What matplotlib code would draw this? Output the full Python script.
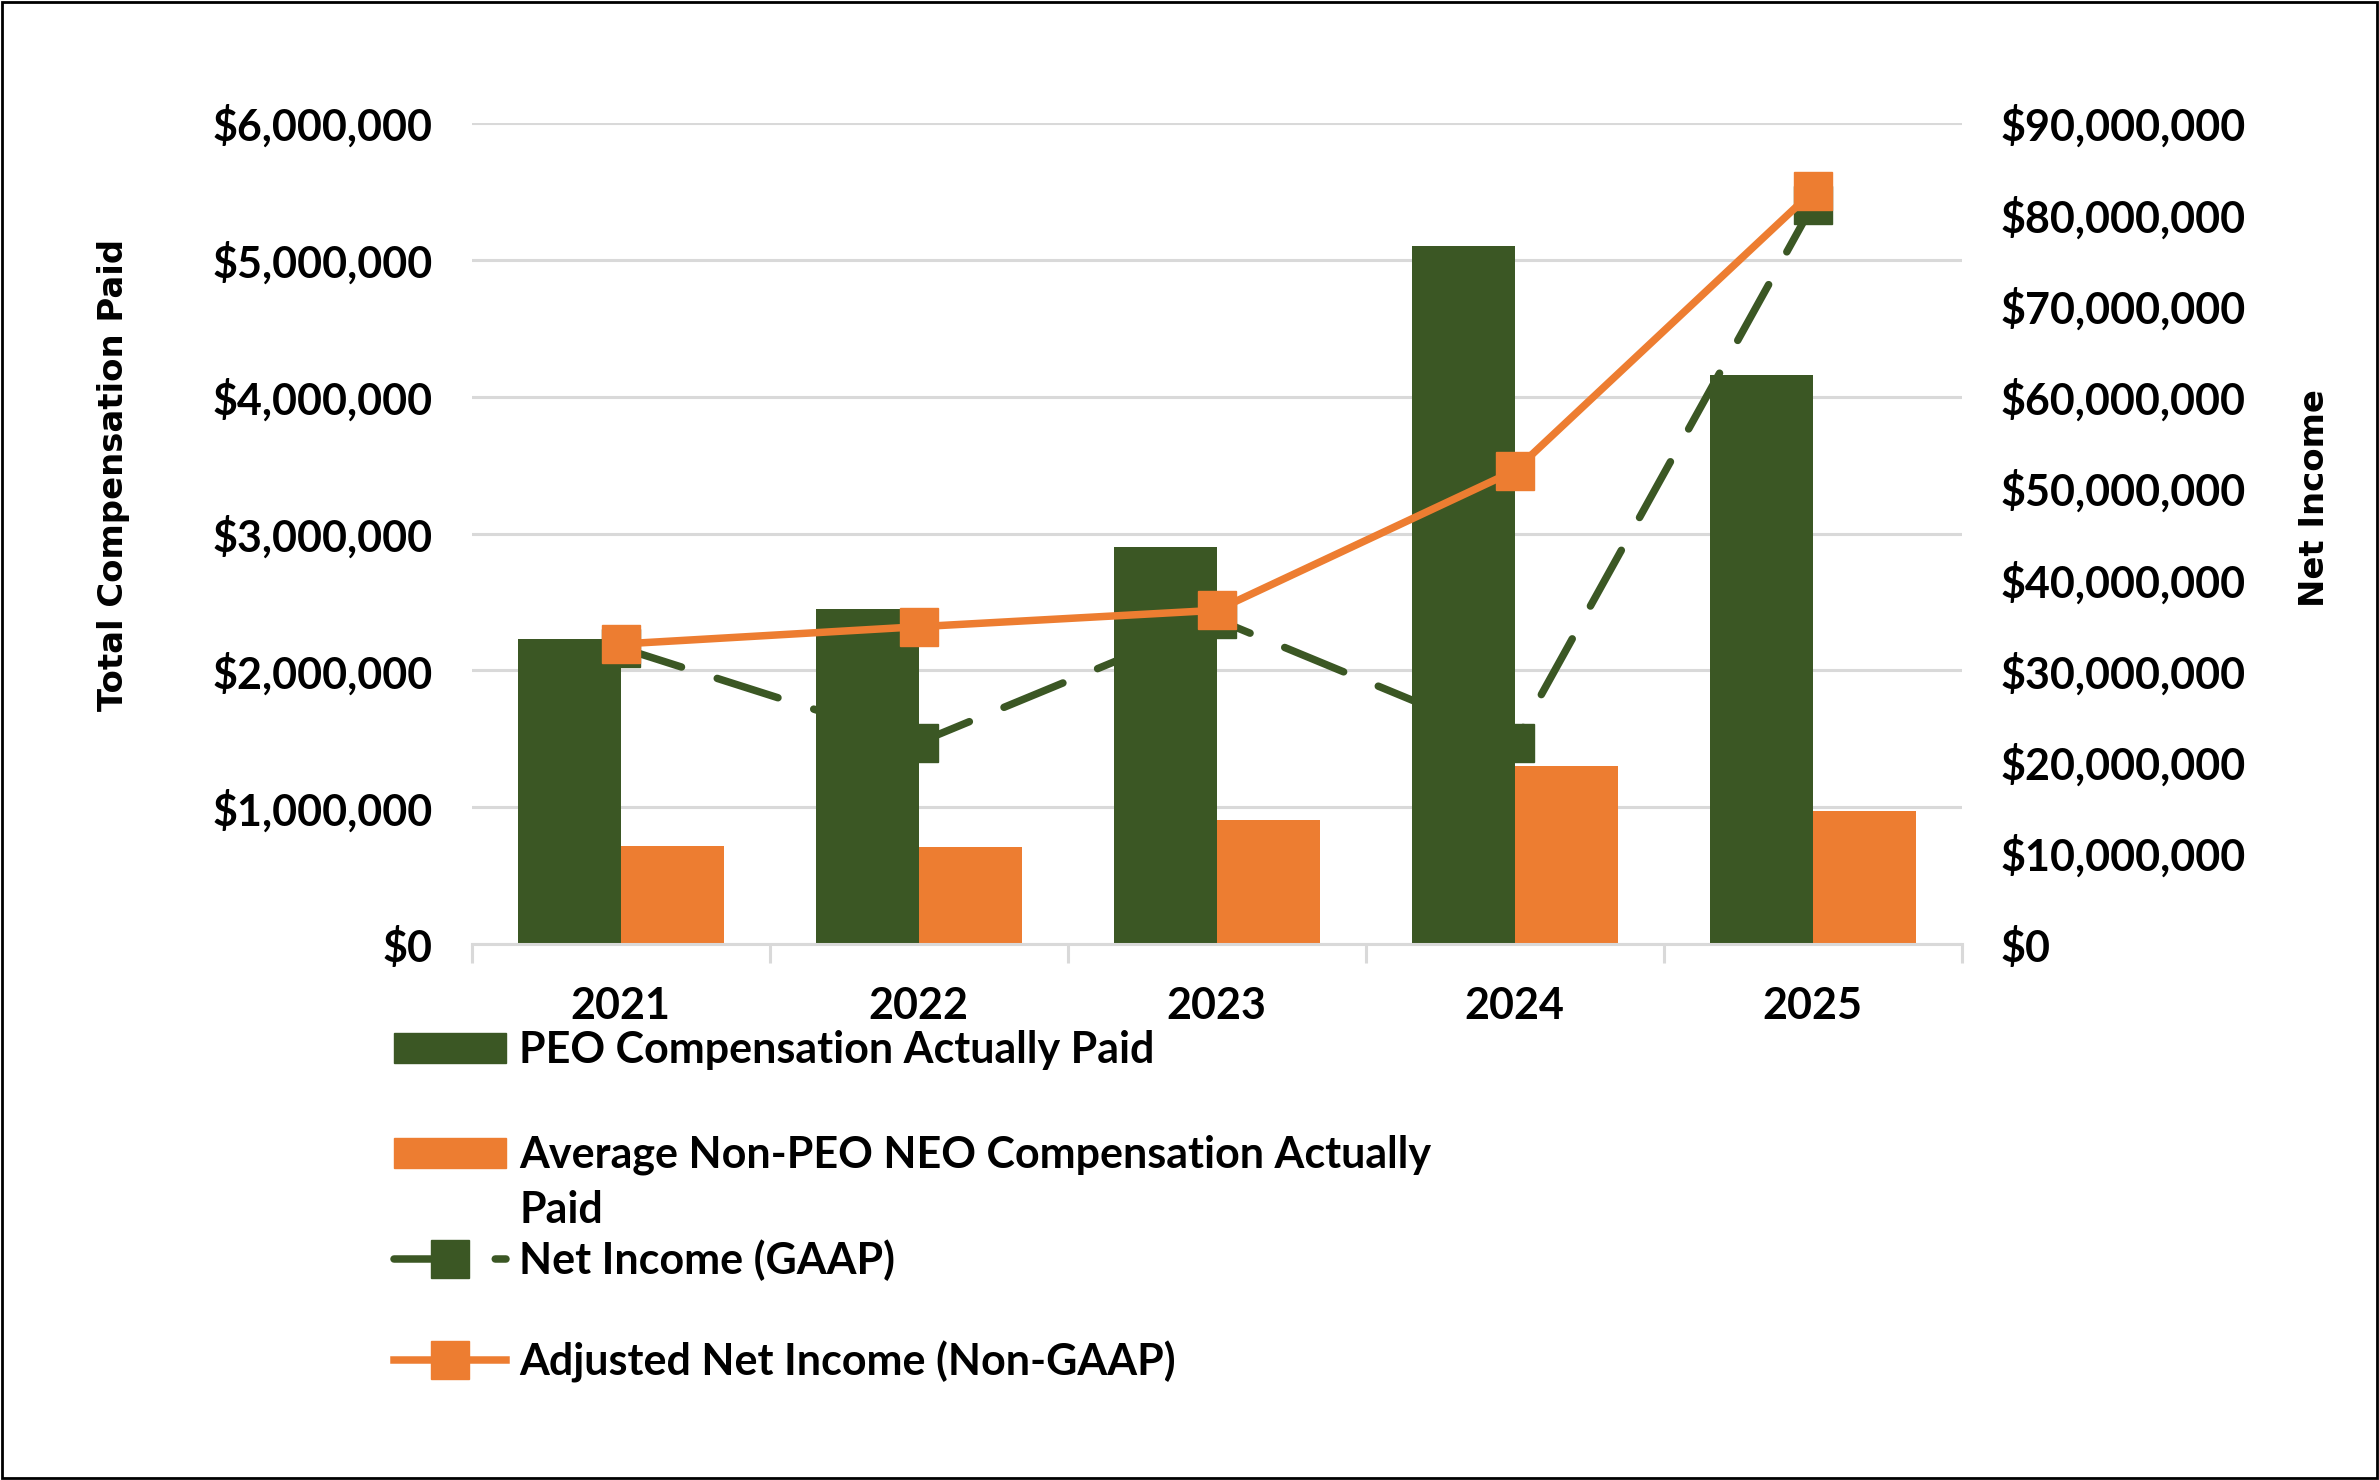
import matplotlib
matplotlib.use("Agg")
import matplotlib.pyplot as plt
from matplotlib.patches import Patch, Rectangle
from matplotlib.lines import Line2D
from matplotlib.ticker import FuncFormatter, FixedLocator
import numpy as np

years = ["2021", "2022", "2023", "2024", "2025"]
peo_cap = [2230000, 2450000, 2900000, 5100000, 4160000]
neo_cap = [720000, 710000, 910000, 1300000, 975000]
net_income_gaap = [32500000, 22100000, 35600000, 22100000, 81000000]
adj_net_income = [32900000, 34800000, 36600000, 51900000, 82500000]

label_peo = "PEO Compensation Actually Paid"
label_neo_1 = "Average Non-PEO NEO Compensation Actually"
label_neo_2 = "Paid"
label_gaap = "Net Income (GAAP)"
label_adj = "Adjusted Net Income (Non-GAAP)"

GREEN = "#3B5724"
ORANGE = "#ED7D31"
GRID = "#D9D9D9"

FONT = ["Liberation Sans Narrow", "Lato", "DejaVu Sans"]
FS = 31
LW = 5.4
MS = 27
DASH = (0, (8.5, 5))

fig = plt.figure(figsize=(23.79, 14.80), dpi=100)
ax = fig.add_axes([0.1983, 0.362, 0.6263, 0.5549])
ax2 = ax.twinx()

x = np.arange(len(years))
w = 0.345
ax.bar(x - w / 2, peo_cap, width=w, color=GREEN, zorder=2)
ax.bar(x + w / 2, neo_cap, width=w, color=ORANGE, zorder=2)

ax2.plot(x, net_income_gaap, color=GREEN, lw=LW, linestyle=DASH,
         dash_capstyle="round", marker="s", markersize=MS, zorder=3)
ax2.plot(x, adj_net_income, color=ORANGE, lw=LW, solid_capstyle="round",
         marker="s", markersize=MS, zorder=4)

ax.set_xlim(-0.5, 4.5)
ax.set_ylim(0, 6000000)
ax2.set_ylim(0, 90000000)
ax.set_yticks(np.arange(0, 6000001, 1000000))
ax2.set_yticks(np.arange(0, 90000001, 10000000))
money = FuncFormatter(lambda v, p: "$0" if v == 0 else "${:,.0f}".format(v))
ax.yaxis.set_major_formatter(money)
ax2.yaxis.set_major_formatter(money)

ax.grid(axis="y", color=GRID, lw=2.2, zorder=0)
ax.set_axisbelow(True)

ax.xaxis.set_major_locator(FixedLocator(np.arange(-0.5, 5.0, 1.0)))
ax.xaxis.set_minor_locator(FixedLocator(x))
ax.set_xticklabels([], minor=False)
ax.set_xticklabels(years, minor=True)
ax.tick_params(axis="x", which="major", length=14, width=2.2, color=GRID, direction="out")
ax.tick_params(axis="x", which="minor", length=0, pad=30)
ax.tick_params(axis="y", length=0, pad=28)
ax2.tick_params(axis="y", length=0, pad=28)

for a in (ax, ax2):
    for s in ("left", "right", "top", "bottom"):
        a.spines[s].set_visible(False)
ax.spines["bottom"].set_visible(True)
ax.spines["bottom"].set_color(GRID)
ax.spines["bottom"].set_linewidth(2.2)

for lab in ax.get_yticklabels() + ax2.get_yticklabels() + ax.get_xticklabels(minor=True):
    lab.set_fontfamily(FONT)
    lab.set_fontsize(FS)
    lab.set_fontweight("bold")

ax.set_ylabel("Total Compensation Paid", fontsize=24.4, fontweight="bold",
              family="DejaVu Sans", labelpad=0)
ax.yaxis.set_label_coords(-0.2295, 0.571)
ax2.set_ylabel("Net Income", fontsize=24.4, fontweight="bold", family="DejaVu Sans",
               rotation=90, labelpad=0)
ax2.yaxis.set_label_coords(1.226, 0.543)

handles = [
    (Patch(color=GREEN), label_peo, 0.2903),
    (Patch(color=ORANGE), label_neo_1, 0.2195),
    (Line2D([], [], color=GREEN, lw=LW, linestyle=(0, (8, 5.5)), dash_capstyle="round",
            marker="s", markersize=MS), label_gaap, 0.1487),
    (Line2D([], [], color=ORANGE, lw=LW, marker="s", markersize=MS), label_adj, 0.080),
]
legs = []
for h, lab, yy in handles:
    leg = fig.legend([h], [lab], loc="center left", bbox_to_anchor=(0.1658, yy),
                     frameon=False, borderpad=0, borderaxespad=0, handlelength=2.6,
                     handletextpad=0.3, prop={"family": FONT, "size": FS, "weight": "bold"})
    legs.append(leg)

# second line of the wrapped legend label, aligned with the first line's text
fig.canvas.draw()
t = legs[1].get_texts()[0]
bb = t.get_window_extent(fig.canvas.get_renderer())
x0 = bb.x0 / fig.bbox.width
fig.text(x0, 0.1825, label_neo_2, family=FONT, size=FS, weight="bold",
         ha="left", va="center")

fig.patches.append(Rectangle((0.0008, 0.0012), 0.9984, 0.9976, transform=fig.transFigure,
                             fill=False, edgecolor="black", lw=2))

fig.savefig("out.png", dpi=100)
